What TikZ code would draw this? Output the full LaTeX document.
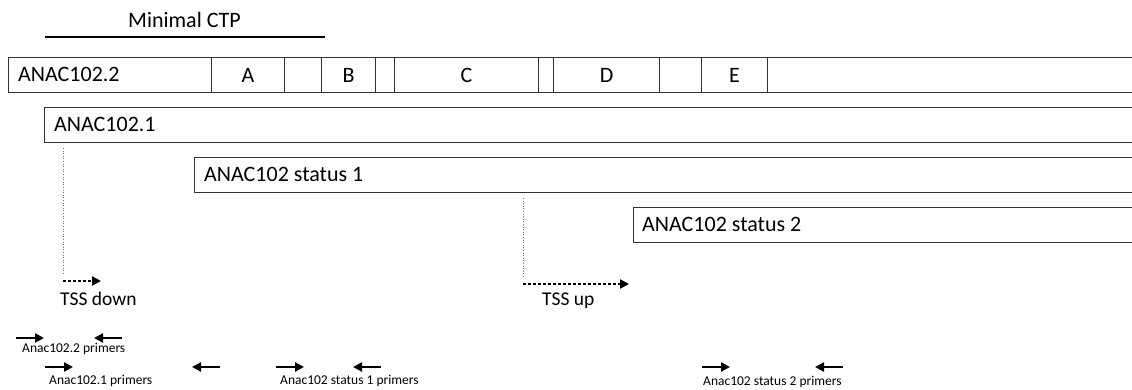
\documentclass[tikz,border=0pt]{standalone}
\usepackage{fontspec}
\setmainfont{Carlito}
\usetikzlibrary{arrows.meta}
\begin{document}
\begin{tikzpicture}[x=1pt,y=-1pt,
  seg/.style={draw=black!80, line width=1.1pt, minimum height=35pt, inner sep=0pt, anchor=north west, font=\fontsize{22}{22}\selectfont},
  lbl/.style={inner sep=0pt, anchor=base west, font=\fontsize{22}{22}\selectfont},
  tsslbl/.style={inner sep=0pt, anchor=base west, font=\fontsize{19.5}{20}\selectfont},
  primlbl/.style={inner sep=0pt, anchor=base west, font=\fontsize{13.5}{14}\selectfont},
  guide/.style={draw=black!55, line width=0.6pt, dotted},
  tssarrow/.style={line width=2.6pt, dash pattern=on 2.6pt off 2.4pt, -{Triangle[length=9pt,width=9pt]}},
  primer/.style={line width=2.8pt, -{Triangle[length=9pt,width=9pt]}}
]
\useasboundingbox (0,0) rectangle (1132,390);
\fill[white] (0,0) rectangle (1132,390);
\begin{scope}
\clip (0,0) rectangle (1132,390);
% Minimal CTP
\node[lbl] (ctp) at (128,28) {Minimal CTP};
\coordinate (ctpL) at (45,37);
\coordinate (ctpR) at (325,37);
\draw[line width=2.5pt] (ctpL) -- (ctpR);
% Row 1 segments
\node[seg, minimum width=203pt] (s0) at (8,57) {};
\node[seg, minimum width=73pt] (sA) at (211,57) {A};
\node[seg, minimum width=37pt] (s1) at (284,57) {};
\node[seg, minimum width=54pt] (sB) at (321,57) {B};
\node[seg, minimum width=19pt] (s2) at (375,57) {};
\node[seg, minimum width=144pt] (sC) at (394,57) {C};
\node[seg, minimum width=15pt] (s3) at (538,57) {};
\node[seg, minimum width=106pt] (sD) at (553,57) {D};
\node[seg, minimum width=42pt] (s4) at (659,57) {};
\node[seg, minimum width=66pt] (sE) at (701,57) {E};
\node[seg, minimum width=380pt] (s5) at (767,57) {};
\node[lbl] (t22) at (18,82) {ANAC102.2};
% Row 2-4
\node[seg, minimum width=1100pt] (r21) at (44,107) {};
\node[lbl] (t21) at (54,131.5) {ANAC102.1};
\node[seg, minimum width=950pt] (rs1) at (194,157) {};
\node[lbl] (ts1) at (204,182) {ANAC102 status 1};
\node[seg, minimum width=510pt] (rs2) at (633,207) {};
\node[lbl] (ts2) at (642,232) {ANAC102 status 2};
\end{scope}
% TSS down
\coordinate (g1a) at (63,148);
\coordinate (g1b) at (63,274);
\draw[guide] (g1a) -- (g1b);
\coordinate (td1) at (63,281);
\coordinate (td2) at (101,281);
\draw[tssarrow] (td1) -- (td2);
\node[tsslbl] (tssd) at (60,305) {TSS down};
% TSS up
\coordinate (g2a) at (523,198);
\coordinate (g2b) at (523,278);
\draw[guide] (g2a) -- (g2b);
\coordinate (tu1) at (523,284);
\coordinate (tu2) at (629,284);
\draw[tssarrow] (tu1) -- (tu2);
\node[tsslbl] (tssu) at (542,305) {TSS up};
% Primers
\coordinate (p22fa) at (16,338); \coordinate (p22fb) at (44,338);
\coordinate (p22ra) at (122,338); \coordinate (p22rb) at (94,338);
\draw[primer] (p22fa) -- (p22fb);
\draw[primer] (p22ra) -- (p22rb);
\node[primlbl] (l22) at (22,352) {Anac102.2 primers};
\coordinate (p21fa) at (45,367); \coordinate (p21fb) at (73,367);
\coordinate (p21ra) at (220,367); \coordinate (p21rb) at (192,367);
\draw[primer] (p21fa) -- (p21fb);
\draw[primer] (p21ra) -- (p21rb);
\node[primlbl] (l21) at (49,384) {Anac102.1 primers};
\coordinate (ps1fa) at (276,367); \coordinate (ps1fb) at (304,367);
\coordinate (ps1ra) at (381,367); \coordinate (ps1rb) at (353,367);
\draw[primer] (ps1fa) -- (ps1fb);
\draw[primer] (ps1ra) -- (ps1rb);
\node[primlbl] (ls1) at (280,384) {Anac102 status 1 primers};
\coordinate (ps2fa) at (702,367); \coordinate (ps2fb) at (730,367);
\coordinate (ps2ra) at (843,367); \coordinate (ps2rb) at (815,367);
\draw[primer] (ps2fa) -- (ps2fb);
\draw[primer] (ps2ra) -- (ps2rb);
\node[primlbl] (ls2) at (703,385) {Anac102 status 2 primers};
\end{tikzpicture}
\end{document}
